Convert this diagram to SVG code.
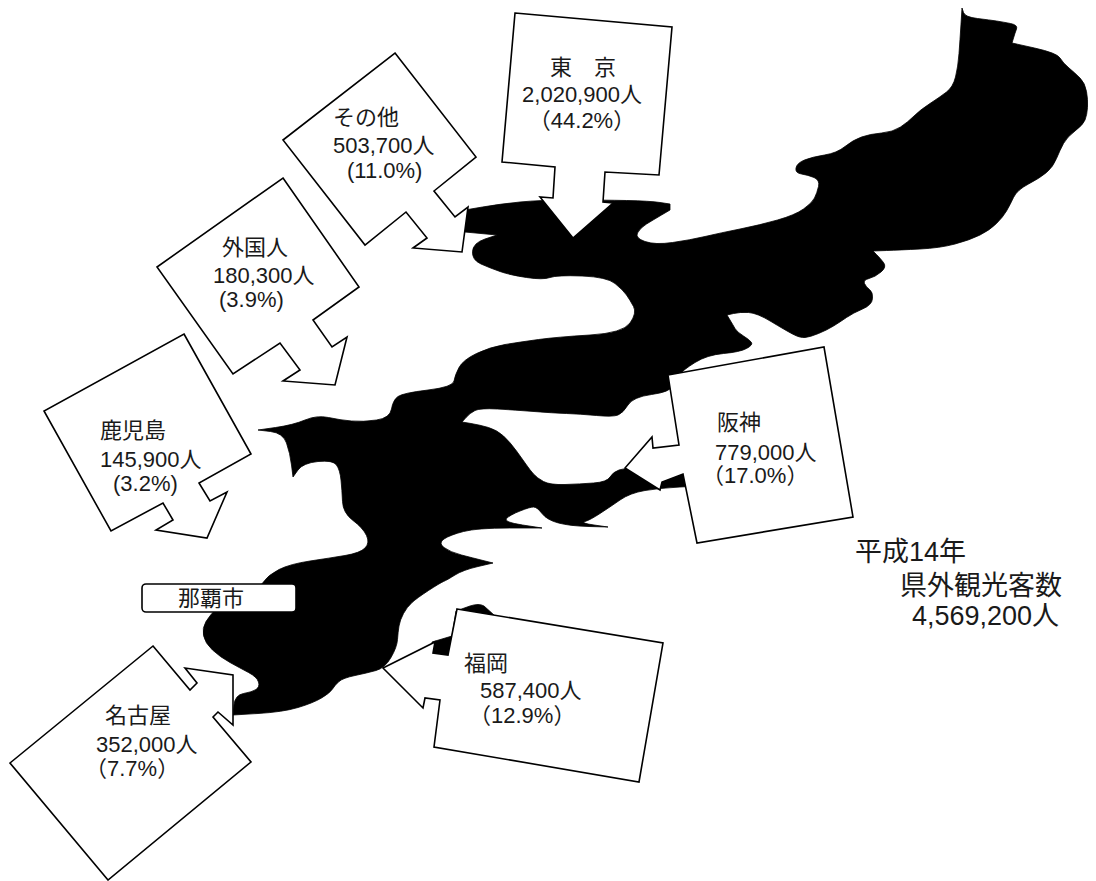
<svg xmlns="http://www.w3.org/2000/svg" width="1096" height="881" viewBox="0 0 1096 881">
<style>
.land{fill:#000;stroke:#000;stroke-width:0.8;stroke-linejoin:round}
.box{fill:#fff;stroke:#000;stroke-width:1.6;stroke-linejoin:miter}
.t{font-family:"Liberation Sans","Noto Sans CJK JP",sans-serif;font-size:22px;fill:#1a1a1a}
.m{text-anchor:middle}
.ttl{font-size:27px}
</style>
<rect x="0" y="0" width="1096" height="881" fill="#fff"/>
<g id="island">
<path class="land" d="M 465,210 L 482.5,207 Q 500,204 520,202 Q 540,200 571.5,200 Q 603,200 626.5,200.5 Q 650,201 660,202.5 L 670,204 L 670,210 L 661.5,215 Q 653,220 646.5,224 Q 640,228 637.5,233 Q 635,238 645,241.5 Q 655,245 672.5,242.5 Q 690,240 705,236.5 Q 720,233 740,229 Q 760,225 777.5,220 Q 795,215 803.5,209 Q 812,203 814.5,198 Q 817,193 818.5,186.5 Q 820,180 814,177.5 Q 808,175 801.5,174 Q 795,173 796,168 Q 797,163 804.5,160 Q 812,157 824.5,155 Q 837,153 845,146.5 Q 853,140 861.5,137 Q 870,134 881.5,133 Q 893,132 900.5,127 Q 908,122 914,116 Q 920,110 930,103.5 Q 940,97 946.5,92 Q 953,87 955.5,77 Q 958,67 959,53.5 Q 960,40 961,24 L 962,8 L 963.5,12.5 Q 965,17 977.5,18.5 Q 990,20 996.5,21 Q 1003,22 1010.5,23.5 Q 1018,25 1016.5,29 Q 1015,33 1013.5,38 L 1012,43 L 1034.5,48 Q 1057,53 1060,58 Q 1063,63 1069,68 Q 1075,73 1080,78 Q 1085,83 1086.5,91.5 Q 1088,100 1087.5,107.5 Q 1087,115 1085,120 Q 1083,125 1075,131 Q 1067,137 1063.5,143.5 Q 1060,150 1056.5,158.5 Q 1053,167 1046.5,172.5 Q 1040,178 1028.5,184 Q 1017,190 1013.5,197.5 Q 1010,205 1006.5,211 Q 1003,217 996.5,223.5 Q 990,230 980,235 Q 970,240 955,244 Q 940,248 920,249 Q 900,250 886.5,250.5 L 873,251 L 876.5,254.5 Q 880,258 883.5,262.5 Q 887,267 881,272 Q 875,277 869,278.5 Q 863,280 864.5,283.5 Q 866,287 869.5,289.5 Q 873,292 872.5,298.5 Q 872,305 862.5,309 Q 853,313 846.5,317.5 Q 840,322 833.5,326 Q 827,330 818.5,333.5 Q 810,337 805,337.5 Q 800,338 792.5,334 Q 785,330 771,321.5 Q 757,313 748.5,312.5 Q 740,312 733.5,313.5 L 727,315 L 730,320 Q 733,325 735,328.5 Q 737,332 743.5,336 Q 750,340 751.5,342.5 Q 753,345 746.5,348.5 Q 740,352 723.5,353.5 Q 707,355 695,362.5 Q 683,370 679,375 Q 675,380 672.5,386 Q 670,392 651.5,394.5 Q 633,397 628,405 Q 623,413 618,415 Q 613,417 596.5,415.5 Q 580,414 566.5,413.5 Q 553,413 534,411.5 Q 515,410 497.5,409 Q 480,408 475,410.5 Q 470,413 466,417.5 L 462,422 L 471,423.5 Q 480,425 488.5,427.5 Q 497,430 503.5,436 Q 510,442 516.5,451 Q 523,460 526.5,465 Q 530,470 533.5,474 Q 537,478 543.5,481.5 Q 550,485 565,484.5 Q 580,484 593.5,483 Q 607,482 610,477 Q 613,472 619,470 Q 625,468 642.5,468 Q 660,468 680,468 L 700,468 L 700,486 L 680,487 Q 660,488 645,490.5 Q 630,493 620,500 Q 610,507 600,513.5 Q 590,520 585,521.5 Q 580,523 594,525 L 608,527 L 589,526.5 Q 570,526 558.5,523 Q 547,520 542,513.5 Q 537,507 533.5,507 Q 530,507 520,511 Q 510,515 506.5,518.5 Q 503,522 522.5,525 L 542,528 L 509.5,528 Q 477,528 463.5,531.5 Q 450,535 444,539 Q 438,543 444,547.5 Q 450,552 461.5,555 Q 473,558 483,560.5 L 493,563 L 478,566.5 Q 463,570 455,575 Q 447,580 443.5,581.5 Q 440,583 428.5,590.5 Q 417,598 412,602.5 Q 407,607 403.5,613.5 Q 400,620 399,626 Q 398,632 397.5,639.5 Q 397,647 391,657.5 Q 385,668 376,670.5 Q 367,673 355,675.5 Q 343,678 339,681.5 Q 335,685 332.5,689 Q 330,693 321.5,698 Q 313,703 298,707.5 Q 283,712 258,713.5 L 233,715 L 234,705 Q 235,695 243.5,693.5 Q 252,692 256,689.5 Q 260,687 258.5,682 Q 257,677 248.5,672.5 Q 240,668 230,662.5 Q 220,657 212.5,650 Q 205,643 203.5,635.5 Q 202,628 206,621.5 Q 210,615 217.5,607.5 Q 225,600 241.5,595 Q 258,590 263,582.5 Q 268,575 279,569.5 Q 290,564 310,561 Q 330,558 345,555.5 Q 360,553 365,548 Q 370,543 366.5,535.5 Q 363,528 353,520.5 Q 343,513 342.5,501.5 Q 342,490 341,480 Q 340,470 336.5,465 Q 333,460 318,461.5 Q 303,463 298,470 L 293,477 L 291.5,465 Q 290,453 286.5,443 Q 283,433 270.5,431.5 L 258,430 L 275.5,427.5 Q 293,425 305,420 Q 317,415 328.5,417.5 Q 340,420 351.5,421 Q 363,422 376.5,420 Q 390,418 391.5,409 Q 393,400 398,396.5 Q 403,393 428,390 Q 453,387 454,381 Q 455,375 459,367.5 Q 463,360 476.5,353.5 Q 490,347 505,344.5 Q 520,342 538.5,339.5 Q 557,337 590,335 Q 623,333 630,323 Q 637,313 633.5,306.5 Q 630,300 626.5,295 Q 623,290 615,283.5 Q 607,277 582,276 Q 557,275 550,277.5 Q 543,280 526.5,277.5 Q 510,275 500,271.5 Q 490,268 481,264 Q 472,260 472.5,251.5 Q 473,243 485,239 L 497,235 L 465,232 Z"/>
<path class="land" d="M 433,654 L 432,642 L 452,636 L 456,611 L 470,606 Q 479,603 484,606 L 494,615 L 520,660 Z"/>
</g>
<g id="connectors"></g>
<g id="node-tokyo">
<polygon class="box" points="515,13 672,27 659,175 605,172 603,202 613,203 573,238 540,197 553,198 555,167 502,162"/>
<text class="t m" x="583" y="75">東　京</text>
<text class="t m" x="582" y="102">2,020,900人</text>
<text class="t m" x="582" y="128">（44.2%）</text>
</g>
<g id="node-other">
<polygon class="box" points="395,53 476,157 434,191 455,217 468,207 462,252 413,248 427,238 406,212 365,245 283,140"/>
<text class="t" x="333" y="125">その他</text>
<text class="t" x="333" y="153">503,700人</text>
<text class="t" x="347" y="178">(11.0%)</text>
</g>
<g id="node-foreign">
<polygon class="box" points="283,178 359,287 313,320 332,347 347,337 335,385 283,381 300,370 280,343 233,374 157,267"/>
<text class="t" x="222" y="255">外国人</text>
<text class="t" x="213" y="283">180,300人</text>
<text class="t" x="219" y="307">(3.9%)</text>
</g>
<g id="node-kagoshima">
<polygon class="box" points="184,334 251,454 199,483 210,501 227,492 207,538 156,530 173,520 163,503 111,531 44,411"/>
<text class="t" x="100" y="438">鹿児島</text>
<text class="t" x="100" y="467">145,900人</text>
<text class="t" x="113" y="491">(3.2%)</text>
</g>
<g id="node-nagoya">
<polygon class="box" points="153,646 190,690 197,683 185,668 233,675 233,725 218,712 213,717 251,762 108,880 10,763"/>
<text class="t" x="105" y="723">名古屋</text>
<text class="t" x="96" y="752">352,000人</text>
<text class="t" x="85" y="776">（7.7%）</text>
</g>
<g id="node-fukuoka">
<polygon class="box" points="457,609 663,643 639,782 434,747 440,700 425,698 423,708 383,668 435,642 433,653 448,655"/>
<text class="t" x="464" y="671">福岡</text>
<text class="t" x="480" y="698">587,400人</text>
<text class="t" x="469" y="723">（12.9%）</text>
</g>
<g id="node-hanshin">
<polygon class="box" points="668,375 824,347 853,517 697,543 683,474 662,482 660,490 625,468 652,437 653,448 679,445"/>
<text class="t" x="717" y="430">阪神</text>
<text class="t" x="715" y="460">779,000人</text>
<text class="t" x="702" y="483">（17.0%）</text>
</g>
<g id="node-naha">
<rect class="box" x="142" y="584" width="154" height="28" rx="4"/>
<text class="t m" x="211" y="606">那覇市</text>
</g>
<g id="title">
<text class="t ttl" x="855" y="561">平成14年</text>
<text class="t ttl" x="900" y="595">県外観光客数</text>
<text class="t ttl" x="912" y="625">4,569,200人</text>
</g>
</svg>
